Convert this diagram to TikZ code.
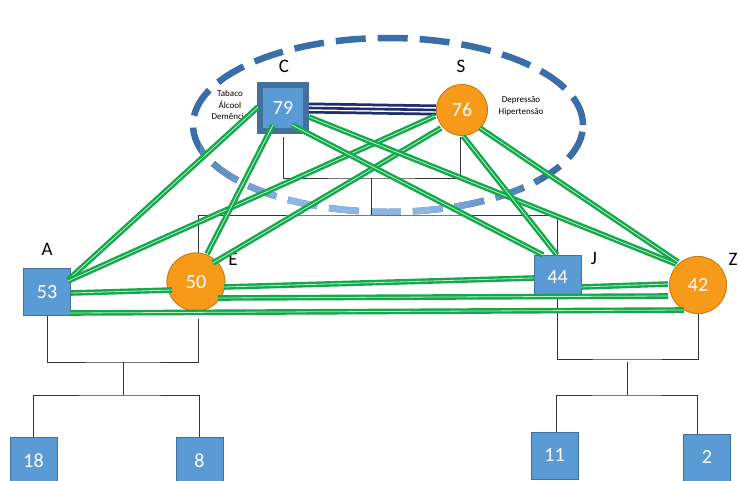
\documentclass[tikz,border=0pt]{standalone}
\usepackage{fontspec}
\setmainfont{Carlito}
\usetikzlibrary{calc}
\definecolor{bluefill}{HTML}{5B9BD5}
\definecolor{blueedge}{HTML}{41719C}
\definecolor{orfill}{HTML}{F79A1A}
\definecolor{oredge}{HTML}{C97F18}
\definecolor{gdark}{HTML}{12A94A}
\definecolor{glight}{HTML}{BEEACD}
\definecolor{navyline}{HTML}{1F2F6B}
\definecolor{elldark}{HTML}{3A6EA9}
\definecolor{elllight}{HTML}{8EB6E3}
\definecolor{treeline}{HTML}{333333}
\begin{document}
\begin{tikzpicture}[x=1pt,y=-1pt,
  box/.style={rectangle, fill=bluefill, draw=blueedge, line width=0.8pt,
    minimum width=47pt, minimum height=47pt, inner sep=0pt, text=white,
    font=\fontsize{20}{24}\selectfont},
  bigbox/.style={box, line width=6pt, minimum width=46pt, minimum height=46pt},
  circ/.style={circle, fill=orfill, draw=oredge, line width=0.8pt,
    minimum size=58pt, inner sep=0pt, text=white, font=\fontsize{20}{24}\selectfont},
  lab/.style={inner sep=0pt, font=\fontsize{19}{21}\selectfont},
  note/.style={inner sep=0pt, align=center, font=\fontsize{9}{11.5}\selectfont},
  tree/.style={draw=treeline, line width=0.9pt},
  gline/.style={draw=gdark, line width=2.4pt, double=glight, double distance=0.8pt},
  ell/.style={line width=6.5pt, dash pattern=on 30pt off 12pt},
  triple/.style={draw=navyline, line width=11pt,
    postaction={draw=white, line width=5.5pt},
    postaction={draw=navyline, line width=2.6pt}}
]
\useasboundingbox (0,0) rectangle (739,480);
\clip (0,0) rectangle (739,480);
\fill[white] (0,0) rectangle (739,480);

% dashed ellipse with lighter bottom
\draw[ell, draw=elldark] (388,125) ellipse [x radius=195pt, y radius=87pt];
\foreach \i in {0,...,33} {
  \pgfmathsetmacro{\xa}{200+\i*10}
  \pgfmathtruncatemacro{\p}{min(100,max(0,150*(1-abs(\xa+5-360)/200)))}
  \begin{scope}
    \clip (\xa,140) rectangle (\xa+10.3,225);
    \draw[ell, draw=elllight!\p!elldark] (388,125) ellipse [x radius=195pt, y radius=87pt];
  \end{scope}
}

% side notes
\node[note] (n1) at (230,105) {Tabaco\\Álcool\\Demência};
\node[note] (n2) at (521,106) {Depressão\\Hipertensão};

% nodes
\node[bigbox] (C) at (283,108) {79};
\node[circ, minimum size=51pt] (S) at (462,110) {76};
\node[box] (A) at (47,292) {53};
\node[circ] (E) at (196,282) {50};
\node[box, minimum height=43pt] (J) at (557.5,277) {44};
\node[circ, minimum size=57pt] (Z) at (698,285) {42};
\node[box] (b18) at (33.5,460.5) {18};
\node[box] (b8) at (199.5,460.5) {8};
\node[box] (b11) at (554.5,455.5) {11};
\node[box] (b2) at (707,457.5) {2};

% tree lines
\coordinate (tc) at (371,178);
\coordinate (tm) at (371,215);
\draw[tree] ($(C.south)+(0,3)$) |- (tc) -| ($(S.south)+(-2,1)$);
\draw[tree] (tc) -- (tm);
\draw[tree] (E.85) |- (tm) -| (J.north);
\coordinate (lm) at (123,362);
\coordinate (lb) at (123,395);
\draw[tree] (A.south) |- (lm) -| ($(E.south)+(2,8)$);
\draw[tree] (lm) -- (lb);
\draw[tree] (b18.north) |- (lb) -| (b8.north);
\coordinate (rm) at (627,359);
\coordinate (rb) at (627,395);
\draw[tree] (J.south) |- (rm) -| (Z.south);
\draw[tree] ($(rm)+(0,3)$) -- (rb);
\draw[tree] ($(b11.north)+(1.5,0)$) |- (rb) -| ($(b2.north)+(-10,0)$);

% redraw nodes over tree lines
\node[bigbox] at (C) {79};
\node[circ, minimum size=51pt] at (S) {76};
\node[box] at (A) {53};
\node[circ] at (E) {50};
\node[box, minimum height=43pt] at (J) {44};
\node[circ, minimum size=57pt] at (Z) {42};

% labels
\node[lab] (lC) at (284,66) {C};
\node[lab] (lS) at (461,66) {S};
\node[lab] (lA) at (47,249) {A};
\node[lab] (lE) at (233,259) {E};
\node[lab] (lJ) at (594,258) {J};
\node[lab] (lZ) at (733,259) {Z};

% C - S triple line
\draw[triple] (C.east) -- (S.west);

% green connectors
\draw[gline] ($(A)+(21,-12)$) -- ($(C)+(-25,-1)$);
\draw[gline] ($(A)+(21,-11)$) -- ($(S)+(-27,6)$);
\draw[gline] ($(A)+(24,1)$) -- ($(E)+(-24,8)$);
\draw[gline] ($(A)+(23,21)$) -- ($(Z)+(-14,25)$);
\draw[gline] ($(E)+(11,-28)$) -- ($(C)+(-10,17)$);
\draw[gline] ($(E)+(17,-19)$) -- ($(S)+(-21,18)$);
\draw[gline] ($(E)+(28,5)$) -- ($(J)+(-23.5,1)$);
\draw[gline] ($(E)+(22,16)$) -- ($(Z)+(-30,11)$);
\draw[gline] ($(C)+(9,17)$) -- ($(J)+(-14.5,-22)$);
\draw[gline] ($(C)+(26,9)$) -- ($(Z)+(-22,-21)$);
\draw[gline] ($(S)+(1,26)$) -- ($(J)+(-0.5,-22)$);
\draw[gline] ($(S)+(18,18)$) -- ($(Z)+(-20,-23)$);
\draw[gline] ($(J)+(23.5,10)$) -- ($(Z)+(-30,-1)$);
\end{tikzpicture}
\end{document}
